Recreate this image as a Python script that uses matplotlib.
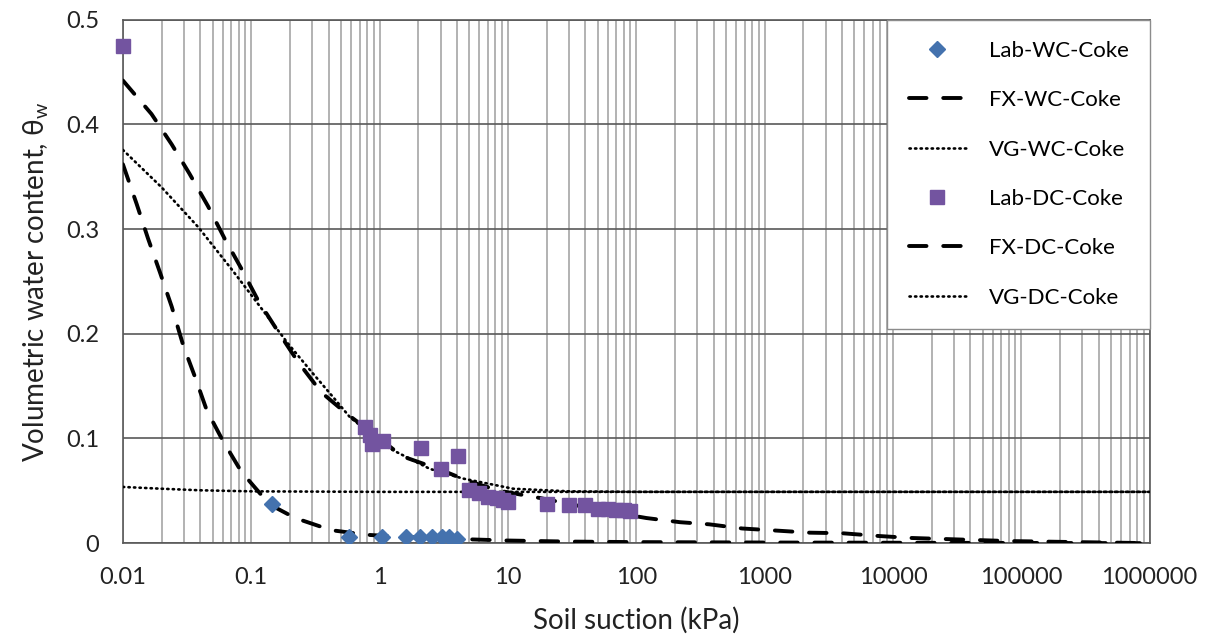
import matplotlib
matplotlib.use("Agg")
import matplotlib.pyplot as plt
from matplotlib.ticker import FixedLocator, FixedFormatter, LogLocator, NullFormatter

plt.rcParams['font.family'] = ['Lato', 'DejaVu Sans']
plt.rcParams['mathtext.default'] = 'regular'

# Lab wetting curve (diamonds)
lab_wc_x = [0.145, 0.58, 1.05, 1.6, 2.05, 2.55, 3.05, 3.5, 4.0]
lab_wc_y = [0.037, 0.006, 0.006, 0.006, 0.006, 0.006, 0.006, 0.006, 0.004]

# Fredlund-Xing wetting fit
fx_wc_x = [0.01, 0.0128, 0.0157, 0.0194, 0.024, 0.0295, 0.0364, 0.045, 0.060, 0.084,
           0.12, 0.16, 0.22, 0.42, 0.79, 1.5, 4, 10, 30, 100, 1000, 1e6]
fx_wc_y = [0.362, 0.324, 0.291, 0.259, 0.226, 0.189, 0.159, 0.127, 0.098, 0.068,
           0.046, 0.033, 0.024, 0.0124, 0.0080, 0.0060, 0.0040, 0.0025, 0.0015, 0.0010, 0.0006, 0.0]

# van Genuchten wetting fit
vg_wc_x = [0.01, 0.02, 0.04, 0.1, 1, 10, 1e6]
vg_wc_y = [0.0537, 0.052, 0.0505, 0.0495, 0.049, 0.049, 0.049]

# Lab drying curve (squares)
lab_dc_x = [0.01, 0.77, 0.84, 0.88, 1.06, 2.1, 3.0, 4.07, 5.0, 6.0, 7.0, 8.2, 9.1, 10,
            20, 30, 40, 50, 60, 70, 80, 90]
lab_dc_y = [0.475, 0.111, 0.103, 0.095, 0.098, 0.091, 0.071, 0.083, 0.051, 0.048, 0.044,
            0.043, 0.041, 0.039, 0.037, 0.036, 0.036, 0.033, 0.033, 0.032, 0.032, 0.031]

# Fredlund-Xing drying fit
fx_dc_x = [0.01, 0.0167, 0.024, 0.033, 0.046, 0.062, 0.084, 0.113, 0.162, 0.232, 0.352,
           0.55, 1.0, 1.5, 3, 5, 8.6, 18, 50, 120, 220, 370, 670, 1240, 2250, 4000, 7400,
           13500, 24500, 44000, 81000, 150000, 270000, 1e6]
fx_dc_y = [0.442, 0.410, 0.381, 0.353, 0.322, 0.291, 0.262, 0.232, 0.202, 0.173, 0.144,
           0.124, 0.100, 0.083, 0.070, 0.059, 0.050, 0.043, 0.032, 0.024, 0.020, 0.018, 0.014,
           0.012, 0.010, 0.0095, 0.007, 0.005, 0.004, 0.003, 0.002, 0.0015, 0.001, 0.0]

# van Genuchten drying fit
vg_dc_x = [0.01, 0.02, 0.0386, 0.070, 0.0946, 0.194, 0.303, 0.434, 0.586, 1.13, 2.46,
           4.47, 11, 30, 100, 1e6]
vg_dc_y = [0.3757, 0.340, 0.302, 0.262, 0.241, 0.1905, 0.162, 0.1396, 0.1205, 0.092, 0.071,
           0.0617, 0.052, 0.0495, 0.049, 0.049]

x_ticks = [0.01, 0.1, 1, 10, 100, 1000, 10000, 100000, 1000000]
x_tick_labels = ['0.01', '0.1', '1', '10', '100', '1000', '10000', '100000', '1000000']
y_ticks = [0, 0.1, 0.2, 0.3, 0.4, 0.5]
y_tick_labels = ['0', '0.1', '0.2', '0.3', '0.4', '0.5']

fig = plt.figure(figsize=(12.05, 6.39), dpi=100)
ax = fig.add_axes([0.102, 0.150, 0.852, 0.819])

blue = '#4472AE'
purple = '#7354A0'
dash_style = dict(color='black', lw=2.8, linestyle=(0, (4.5, 4.3)), dash_capstyle='round')
dot_style = dict(color='black', lw=1.9, linestyle=(0, (0.5, 1.6)), dash_capstyle='round')

ax.plot(lab_wc_x, lab_wc_y, linestyle='none', marker='D', markersize=8.5, color=blue,
        label='Lab-WC-Coke', zorder=5)
ax.plot(fx_wc_x, fx_wc_y, label='FX-WC-Coke', zorder=4, **dash_style)
ax.plot(vg_wc_x, vg_wc_y, label='VG-WC-Coke', zorder=4, **dot_style)
ax.plot(lab_dc_x, lab_dc_y, linestyle='none', marker='s', markersize=10, color=purple,
        label='Lab-DC-Coke', zorder=5, clip_on=False)
ax.plot(fx_dc_x, fx_dc_y, label='FX-DC-Coke', zorder=4, **dash_style)
ax.plot(vg_dc_x, vg_dc_y, label='VG-DC-Coke', zorder=4, **dot_style)

ax.set_xscale('log')
ax.set_xlim(0.01, 1e6)
ax.set_ylim(0, 0.5)

ax.xaxis.set_major_locator(FixedLocator(x_ticks))
ax.xaxis.set_major_formatter(FixedFormatter(x_tick_labels))
ax.xaxis.set_minor_locator(LogLocator(base=10, subs=range(2, 10), numticks=100))
ax.xaxis.set_minor_formatter(NullFormatter())
ax.yaxis.set_major_locator(FixedLocator(y_ticks))
ax.yaxis.set_major_formatter(FixedFormatter(y_tick_labels))

ax.grid(True, axis='x', which='both', color='#a6a6a6', lw=1.2, zorder=0)
ax.grid(True, axis='y', which='major', color='#595959', lw=1.2, zorder=0)
ax.set_axisbelow(True)

ax.tick_params(axis='both', which='both', length=0, labelsize=17, colors='#222222')
ax.tick_params(axis='x', which='major', pad=17)
ax.tick_params(axis='y', which='major', pad=17)

for s in ax.spines.values():
    s.set_color('#595959')
    s.set_linewidth(1.2)

ax.set_xlabel('Soil suction (kPa)', fontsize=20, labelpad=14, color='#222222')
ax.set_ylabel('Volumetric water content, θ$_{w}$', fontsize=20, labelpad=11, color='#222222')

leg = ax.legend(loc='upper right', fontsize=16, frameon=True, fancybox=False,
                borderaxespad=0.0, handlelength=2.6, labelspacing=1.32, borderpad=0.95,
                handletextpad=1.0, edgecolor='#8c8c8c')
leg.get_frame().set_linewidth(1.0)
leg.get_frame().set_facecolor('white')
leg.get_frame().set_alpha(1.0)

fig.savefig('out.png', dpi=100)
